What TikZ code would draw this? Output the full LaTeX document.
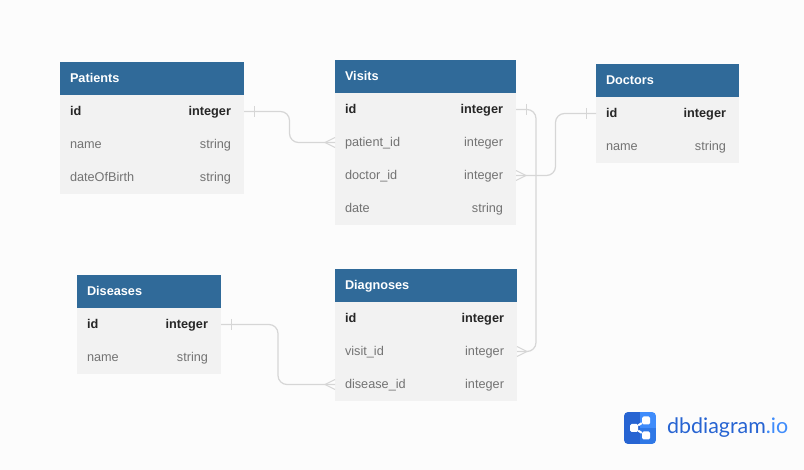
\documentclass[tikz,border=0pt]{standalone}
\usepackage{fontspec}
\setmainfont{Liberation Sans}
\newfontfamily\logofont{Lato}
\usetikzlibrary{positioning}
\definecolor{headblue}{HTML}{306A99}
\definecolor{rowgrey}{HTML}{F2F2F2}
\definecolor{linkgrey}{HTML}{D6D6D6}
\definecolor{logodark}{HTML}{2764D2}
\definecolor{logomid}{HTML}{2F78E6}
\definecolor{logolight}{HTML}{3F8CFB}
\newcommand{\rowtext}[2]{#1\hfill#2\kern3pt}
\tikzset{
  head/.style={fill=headblue, text=white, font=\fontsize{12.7}{15}\selectfont\bfseries, text width=#1pt, align=left, inner xsep=10pt, inner ysep=0pt, outer sep=0pt, minimum height=33pt, text height=11.5pt, text depth=2.5pt},
  keyrow/.style={fill=rowgrey, text=black!85, font=\fontsize{12.7}{15}\selectfont\bfseries, text width=#1pt, inner xsep=10pt, inner ysep=0pt, outer sep=0pt, minimum height=33pt, text height=11.5pt, text depth=2.5pt},
  row/.style={keyrow=#1, text=black!55, font=\fontsize{12.7}{15}\selectfont},
  link/.style={draw=linkgrey, line width=1.2pt, rounded corners=9pt},
  mark line/.style={draw=linkgrey, line width=1pt},
  share/.style={fill=white, rounded corners=1.5pt, minimum size=8pt, inner sep=0pt}
}
\begin{document}
\begin{tikzpicture}[x=1pt, y=-1pt]
    \useasboundingbox[fill=black!1] (0,0) rectangle (804,470);

    % Patients
    \node[head=164, anchor=north west] (patients) at (60,62) {Patients};
    \node[keyrow=164, below=0pt of patients] (patients-id) {\rowtext{id}{integer}};
    \node[row=164, below=0pt of patients-id] (patients-name) {\rowtext{name}{string}};
    \node[row=164, below=0pt of patients-name] (patients-birth) {\rowtext{dateOfBirth}{string}};

    % Visits
    \node[head=161, anchor=north west] (visits) at (335,60) {Visits};
    \node[keyrow=161, below=0pt of visits] (visits-id) {\rowtext{id}{integer}};
    \node[row=161, below=0pt of visits-id] (visits-patient) {\rowtext{patient\_id}{integer}};
    \node[row=161, below=0pt of visits-patient] (visits-doctor) {\rowtext{doctor\_id}{integer}};
    \node[row=161, below=0pt of visits-doctor] (visits-date) {\rowtext{date}{string}};

    % Doctors
    \node[head=123, anchor=north west] (doctors) at (596,64) {Doctors};
    \node[keyrow=123, below=0pt of doctors] (doctors-id) {\rowtext{id}{integer}};
    \node[row=123, below=0pt of doctors-id] (doctors-name) {\rowtext{name}{string}};

    % Diseases
    \node[head=124, anchor=north west] (diseases) at (77,275) {Diseases};
    \node[keyrow=124, below=0pt of diseases] (diseases-id) {\rowtext{id}{integer}};
    \node[row=124, below=0pt of diseases-id] (diseases-name) {\rowtext{name}{string}};

    % Diagnoses
    \node[head=162, anchor=north west] (diagnoses) at (335,269) {Diagnoses};
    \node[keyrow=162, below=0pt of diagnoses] (diagnoses-id) {\rowtext{id}{integer}};
    \node[row=162, below=0pt of diagnoses-id] (diagnoses-visit) {\rowtext{visit\_id}{integer}};
    \node[row=162, below=0pt of diagnoses-visit] (diagnoses-disease) {\rowtext{disease\_id}{integer}};

    % Collegamenti
    \draw[link] (patients-id.east) -- ++(45.5,0) |- (visits-patient.west);
    \draw[link] (visits-id.east) -- ++(20,0) |- (diagnoses-visit.east);
    \draw[link] (visits-doctor.east) -- ++(39.5,0) |- (doctors-id.west);
    \draw[link] (diseases-id.east) -- ++(57,0) |- (diagnoses-disease.west);

    % Lato uno
    \draw[mark line] ([xshift=10pt,yshift=5.5pt]patients-id.east) -- ++(0,11);
    \draw[mark line] ([xshift=10pt,yshift=5.5pt]visits-id.east) -- ++(0,11);
    \draw[mark line] ([xshift=-10pt,yshift=5.5pt]doctors-id.west) -- ++(0,11);
    \draw[mark line] ([xshift=10pt,yshift=5.5pt]diseases-id.east) -- ++(0,11);

    % Lato molti
    \draw[mark line] ([yshift=5pt]visits-patient.west) -- ++(-10,5) -- ++(10,5);
    \draw[mark line] ([yshift=5pt]visits-doctor.east) -- ++(10,5) -- ++(-10,5);
    \draw[mark line] ([yshift=5pt]diagnoses-visit.east) -- ++(10,5) -- ++(-10,5);
    \draw[mark line] ([yshift=5pt]diagnoses-disease.west) -- ++(-10,5) -- ++(10,5);

    % Logo
    \begin{scope}
        \clip[rounded corners=4pt] (624,412) rectangle (656,444);
        \fill[logodark] (624,412) rectangle (640,444);
        \fill[logolight] (640,412) rectangle (656,428);
        \fill[logomid] (640,428) rectangle (656,444);
    \end{scope}
    \node[share] (logo-top) at (646,420.5) {};
    \node[share] (logo-left) at (634,428) {};
    \node[share] (logo-bottom) at (646,435.5) {};
    \draw[white, line width=2pt] (logo-top) -- (logo-left) -- (logo-bottom);
    \node[anchor=west, inner sep=0pt, font=\logofont\fontsize{21.4}{24}\selectfont] (logo-text) at (667,428) {\textcolor{logodark}{dbdiagram}\textcolor{logolight}{.io}};
\end{tikzpicture}
\end{document}
